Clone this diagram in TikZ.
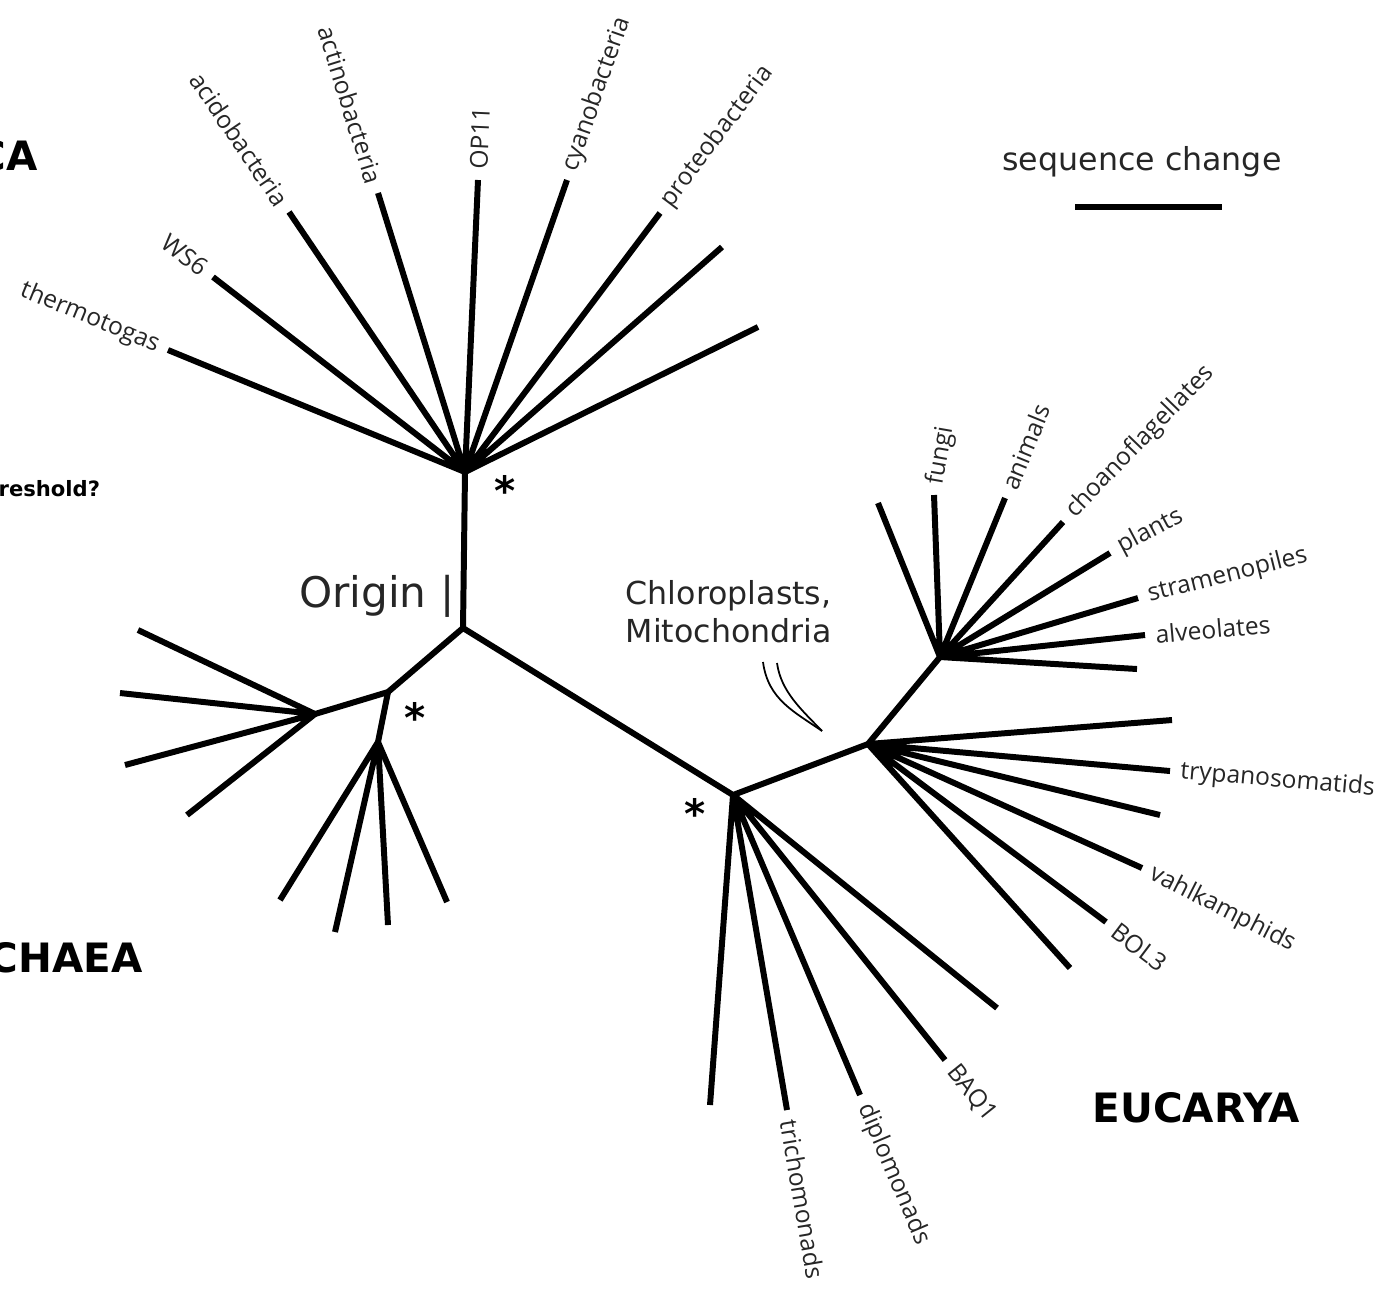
\documentclass[tikz,border=0pt]{standalone}
\usepackage{fontspec}
\setmainfont{Open Sans}
\newfontfamily\comicfont{DejaVu Sans}
\usetikzlibrary{positioning}

\begin{document}
\begin{tikzpicture}[%
x=0.01cm, y=-0.01cm,
branch/.style={line width=1.7pt, line join=round},
lbl/.style={font=\fontsize{7}{8}\selectfont, text=black!85, inner sep=2.8pt},
comic/.style={font=\comicfont\fontsize{9}{10.8}\selectfont, text=black!85},
kingdom/.style={font=\comicfont\bfseries\fontsize{11.5}{13}\selectfont, inner sep=0pt},
starmark/.style={font=\comicfont\bfseries\fontsize{11.5}{12}\selectfont, inner sep=0pt}
]
\useasboundingbox (0,0) rectangle (1395,1299);

% branch points
\coordinate (root) at (463,628);
\coordinate (bac) at (465,472);
\coordinate (arc) at (388,692);
\coordinate (arcL) at (315,714);
\coordinate (arcD) at (378,742);
\coordinate (euc) at (733,795);
\coordinate (eucM) at (868,744);
\coordinate (eucU) at (940,657);

% bacteria leaves
\coordinate (thermo) at (168,350);
\coordinate (ws6) at (213,277);
\coordinate (acido) at (289,212);
\coordinate (actino) at (378,193);
\coordinate (op11) at (478,180);
\coordinate (cyano) at (567,180);
\coordinate (proteo) at (660,213);
\coordinate (bacX) at (722,247);
\coordinate (bacY) at (758,327);

% archaea leaves
\coordinate (arcA) at (138,630);
\coordinate (arcB) at (120,693);
\coordinate (arcC) at (125,765);
\coordinate (arcE) at (187,815);
\coordinate (arcF) at (280,900);
\coordinate (arcG) at (335,932);
\coordinate (arcH) at (388,925);
\coordinate (arcI) at (447,902);

% eucarya leaves
\coordinate (eucX) at (878,503);
\coordinate (fungi) at (934,495);
\coordinate (animals) at (1005,498);
\coordinate (choano) at (1063,522);
\coordinate (plants) at (1110,553);
\coordinate (strameno) at (1138,598);
\coordinate (alveo) at (1145,635);
\coordinate (eucY) at (1137,669);
\coordinate (eucZ) at (1172,720);
\coordinate (trypano) at (1170,771);
\coordinate (eucW) at (1160,815);
\coordinate (vahlk) at (1142,868);
\coordinate (bol3) at (1106,922);
\coordinate (eucV) at (1070,968);
\coordinate (eucU2) at (997,1008);
\coordinate (baq1) at (945,1060);
\coordinate (diplo) at (860,1095);
\coordinate (tricho) at (787,1110);
\coordinate (eucT) at (710,1105);

% inner branches
\draw[branch] (bac) -- (root) -- (euc) -- (eucM) -- (eucU);
\draw[branch] (root) -- (arc) -- (arcL);
\draw[branch] (arc) -- (arcD);

% bacteria
\draw[branch] (bac) -- (thermo) (bac) -- (ws6) (bac) -- (acido)
  (bac) -- (actino) (bac) -- (op11) (bac) -- (cyano)
  (bac) -- (proteo) (bac) -- (bacX) (bac) -- (bacY);

% archaea
\draw[branch] (arcL) -- (arcA) (arcL) -- (arcB) (arcL) -- (arcC) (arcL) -- (arcE);
\draw[branch] (arcD) -- (arcF) (arcD) -- (arcG) (arcD) -- (arcH) (arcD) -- (arcI);

% eucarya
\draw[branch] (eucU) -- (eucX) (eucU) -- (fungi) (eucU) -- (animals)
  (eucU) -- (choano) (eucU) -- (plants) (eucU) -- (strameno)
  (eucU) -- (alveo) (eucU) -- (eucY);
\draw[branch] (eucM) -- (eucZ) (eucM) -- (trypano) (eucM) -- (eucW)
  (eucM) -- (vahlk) (eucM) -- (bol3) (eucM) -- (eucV);
\draw[branch] (euc) -- (eucU2) (euc) -- (baq1) (euc) -- (diplo)
  (euc) -- (tricho) (euc) -- (eucT);

% leaf labels
\node[lbl, rotate=-22.3, anchor=east] (thermoL) at (thermo) {thermotogas};
\node[lbl, rotate=-37.7, anchor=east] (ws6L) at (ws6) {WS6};
\node[lbl, rotate=-55.9, anchor=east] (acidoL) at (acido) {acidobacteria};
\node[lbl, rotate=-72.7, anchor=east] (actinoL) at (actino) {actinobacteria};
\node[lbl, rotate=87.5, anchor=west] (op11L) at (op11) {OP11};
\node[lbl, rotate=70.7, anchor=west] (cyanoL) at (cyano) {cyanobacteria};
\node[lbl, rotate=53, anchor=west] (proteoL) at (proteo) {proteobacteria};

\node[lbl, rotate=80, anchor=west] (fungiL) at (fungi) {fungi};
\node[lbl, rotate=67.8, anchor=west] (animalsL) at (animals) {animals};
\node[lbl, rotate=46, anchor=west] (choanoL) at (choano) {choanoflagellates};
\node[lbl, rotate=28, anchor=west] (plantsL) at (plants) {plants};
\node[lbl, rotate=14, anchor=west] (stramenoL) at (strameno) {stramenopiles};
\node[lbl, rotate=5, anchor=west] (alveoL) at (alveo) {alveolates};
\node[lbl, rotate=-5, anchor=west] (trypanoL) at (trypano) {trypanosomatids};
\node[lbl, rotate=-27, anchor=west] (vahlkL) at (vahlk) {vahlkamphids};
\node[lbl, rotate=-37, anchor=west] (bol3L) at (bol3) {BOL3};
\node[lbl, rotate=-51.3, anchor=west] (baq1L) at (baq1) {BAQ1};
\node[lbl, rotate=-67, anchor=west] (diploL) at (diplo) {diplomonads};
\node[lbl, rotate=-80.3, anchor=west] (trichoL) at (tricho) {trichomonads};

% stars
\node[starmark] (starB) at (505,490) {*};
\node[starmark] (starA) at (415,717) {*};
\node[starmark] (starE) at (695,813) {*};

% texts
\node[comic, font=\comicfont\fontsize{12}{12}\selectfont, inner sep=0pt, anchor=base east] (origin) at (455,607) {Origin |};
\node[comic, align=left, anchor=north west, inner sep=0pt] (chloro) at (625,580) {Chloroplasts,\\Mitochondria};
\coordinate (hintA) at (763,662);
\coordinate (hintB) at (777,663);
\coordinate (hintTip) at (822,731);
\draw[line width=0.5pt] (hintA) .. controls (768,700) and (795,712) .. (hintTip);
\draw[line width=0.5pt] (hintB) .. controls (781,692) and (802,710) .. (hintTip);

\node[comic, inner sep=0pt] (seqL) at (1142,162) {sequence change};
\coordinate (bar1) at (1075,207);
\coordinate (bar2) at (1222,207);
\draw[line width=1.8pt] (bar1) -- (bar2);

\node[kingdom, anchor=base west] (eucaryaL) at (1092,1122) {EUCARYA};
\node[kingdom, anchor=base east] (archaeaL) at (143,972) {CHAEA};
\node[kingdom, anchor=base east] (bacteriaL) at (38,170) {CA};
\node[font=\comicfont\bfseries\fontsize{6}{7}\selectfont, inner sep=0pt, anchor=base west] (threshL) at (-2,496) {reshold?};
\end{tikzpicture}
\end{document}
